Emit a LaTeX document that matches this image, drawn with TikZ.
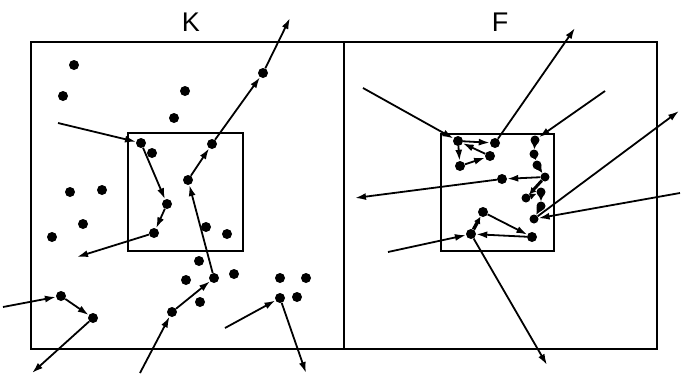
\documentclass[tikz,border=0pt]{standalone}
\usepackage{fontspec}
\setmainfont{Liberation Sans}
\usetikzlibrary{arrows.meta}
\begin{document}
\begin{tikzpicture}[x=1pt,y=-1pt,
  dot/.style={circle,fill=black,inner sep=0pt,minimum size=10pt},
  sdot/.style={circle,fill=black,inner sep=0pt,minimum size=9pt},
  frame/.style={draw=black,line width=1.8pt},
  arr/.style={line width=1.8pt,-{Latex[length=11pt,width=7pt]}},
  sarr/.style={line width=3pt,-{Latex[length=7pt,width=7pt]}},
  lbl/.style={font=\fontsize{27}{30}\selectfont,inner sep=0pt}]
\useasboundingbox (0,0) rectangle (681,375);
% frames
\draw[frame] (31,42) rectangle (344,349);
\draw[frame] (344,42) rectangle (657,349);
\draw[frame] (128,133) rectangle (243,251);
\draw[frame] (441,134) rectangle (554,251);
\node[lbl] (lk) at (191,22) {K};
\node[lbl] (lf) at (500,22) {F};
% K dots
\foreach \n/\x/\y in {k1/74/65,k2/63/96,k3/185/91,k4/174/118,k5/141/143,k6/152/153,
  k7/212/144,k8/263/73,k9/188/180,k10/167/204,k11/154/233,k12/70/192,k13/102/190,
  k14/83/224,k15/52/237,k16/206/227,k17/227/234,k18/199/261,k19/186/280,k20/214/278,
  k21/234/274,k22/200/302,k23/172/312,k24/61/296,k25/93/318,k26/280/278,k27/306/278,
  k28/280/298,k29/297/297}
  \node[dot] (\n) at (\x,\y) {};
% K free ends
\coordinate (c1) at (58,123);
\coordinate (c2) at (77,257);
\coordinate (c3) at (290,18);
\coordinate (c4) at (140,373);
\coordinate (c5) at (3,307);
\coordinate (c6) at (32,373);
\coordinate (c7) at (225,328);
\coordinate (c8) at (306,373);
% K arrows
\draw[arr] (c1) -- (k5);
\draw[arr] (k5) -- (k10);
\draw[arr] (k10) -- (k11);
\draw[arr] (k11) -- (c2);
\draw[arr] (k9) -- (k7);
\draw[arr] (k7) -- (k8);
\draw[arr] (k8) -- (c3);
\draw[arr] (k20) -- (k9);
\draw[arr] (k23) -- (k20);
\draw[arr] (c4) -- (k23);
\draw[arr] (c5) -- (k24);
\draw[arr] (k24) -- (k25);
\draw[arr] (k25) -- (c6);
\draw[arr] (c7) -- (k28);
\draw[arr] (k28) -- (c8);
% F dots
\foreach \n/\x/\y in {f1/458/141,f2/495/143,f3/490/156,f4/460/166,f5/502/179,
  h1/483/212,h2/471/234,h3/532/237}
  \node[dot] (\n) at (\x,\y) {};
\foreach \n/\x/\y in {g1/535/140,g2/534/154,g3/537/165,g4/545/177,g5/526/198,
  g6/541/192,g7/541/206,g8/534/219}
  \node[sdot] (\n) at (\x,\y) {};
% F free ends
\coordinate (d1) at (363,88);
\coordinate (d2) at (575,28);
\coordinate (d3) at (605,91);
\coordinate (d4) at (679,111);
\coordinate (d5) at (680,193);
\coordinate (d6) at (355,198);
\coordinate (d7) at (388,252);
\coordinate (d8) at (547,365);
% F arrows
\draw[arr] (d1) -- (f1);
\draw[arr] (f1) -- (f2);
\draw[arr] (f1) -- (f4);
\draw[arr] (f4) -- (f3);
\draw[arr] (f3) -- (f1);
\draw[arr] (f2) -- (d2);
\draw[arr] (d3) -- (g1);
\draw[sarr] (g1) -- (g2);
\draw[sarr] (g2) -- (g3);
\draw[sarr] (g3) -- (g4);
\draw[sarr] (g4) -- (g5);
\draw[sarr] (g5) -- (g6);
\draw[sarr] (g6) -- (g7);
\draw[sarr] (g7) -- (g8);
\draw[arr] (g4) -- (f5);
\draw[arr] (f5) -- (d6);
\draw[arr] (g8) -- (d4);
\draw[arr] (d5) -- (g8);
\draw[arr] (h1) -- (h3);
\draw[arr] (h3) -- (h2);
\draw[sarr,line width=3.5pt] (h2) -- (h1);
\draw[arr] (d7) -- (h2);
\draw[arr] (h2) -- (d8);
\end{tikzpicture}
\end{document}
